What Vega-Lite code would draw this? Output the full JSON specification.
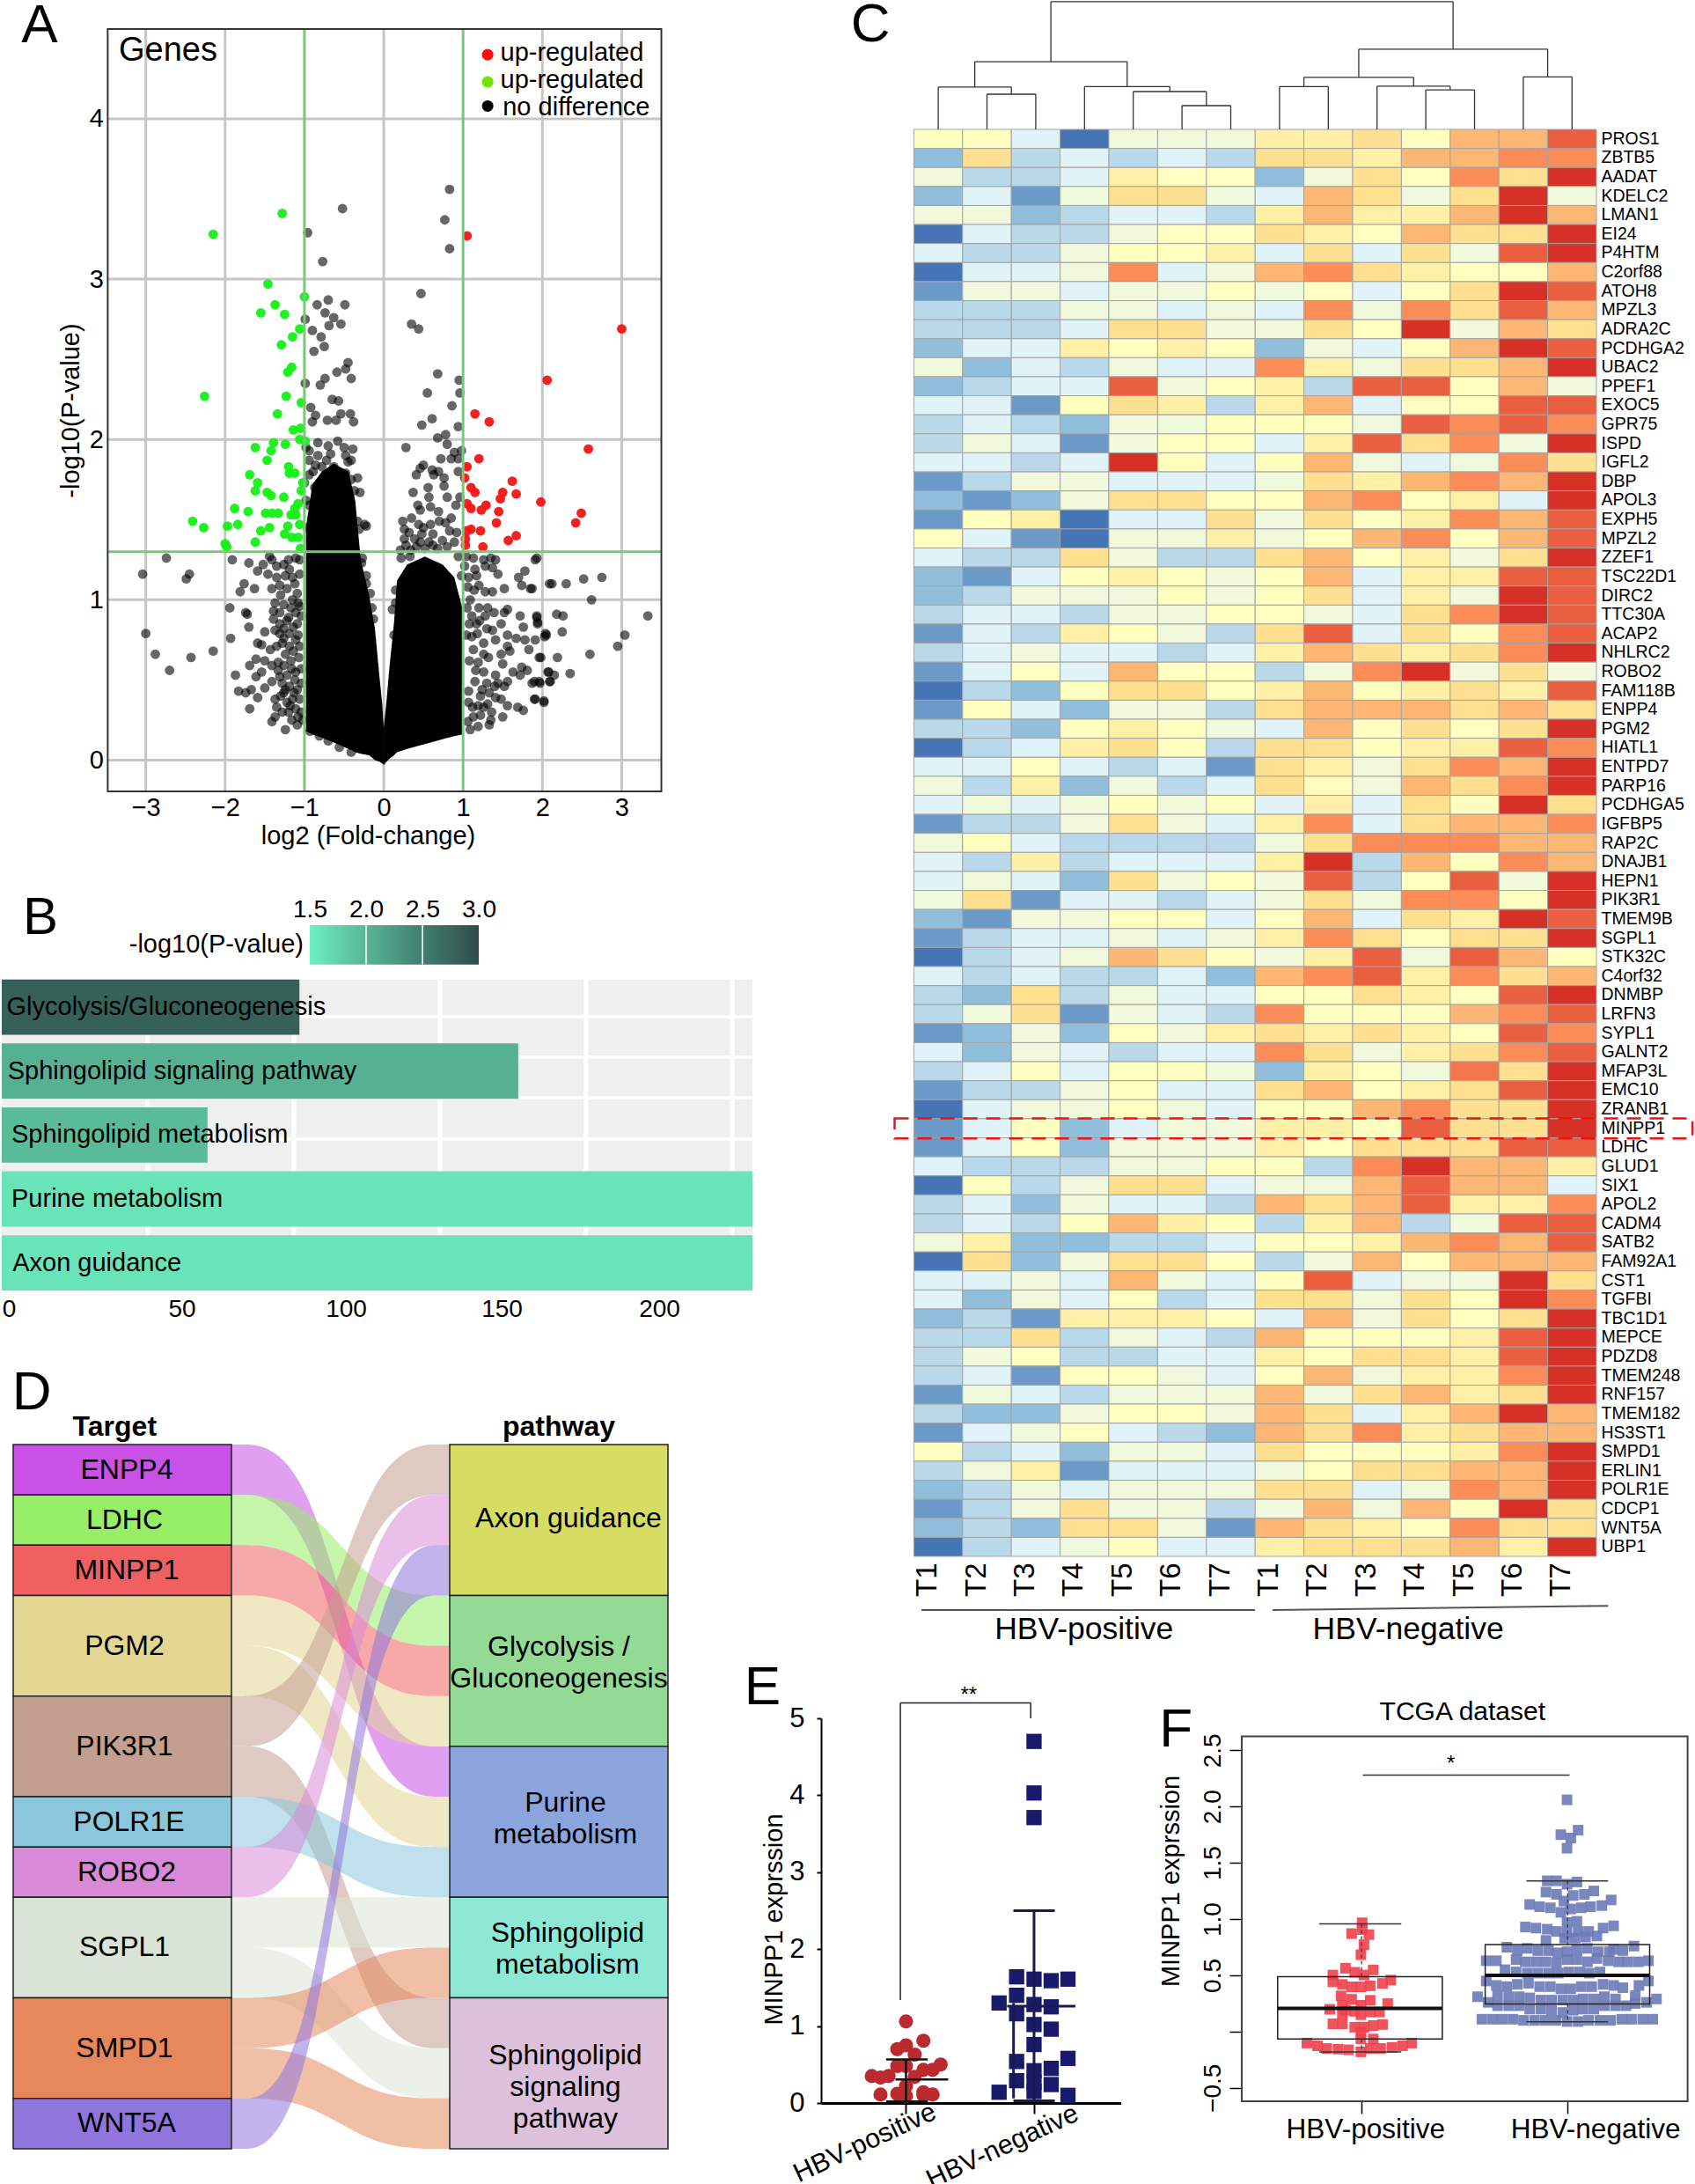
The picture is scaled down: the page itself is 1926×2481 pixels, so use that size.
{"$schema":"https://vega.github.io/schema/vega-lite/v6.json","width":1926,"height":2481,"autosize":{"type":"none"},"padding":0,"background":"white",
"config":{"view":{"stroke":null},"font":"Liberation Sans","text":{"font":"Liberation Sans"},"axis":{"labelFont":"Liberation Sans","titleFont":"Liberation Sans","grid":false,"titleFontWeight":"normal","labelColor":"#000","titleColor":"#000","domainColor":"#000","tickColor":"#000","labelOverlap":false,"labelBound":false,"labelFlush":false}},
"resolve":{"scale":{"x":"independent","y":"independent","color":"independent"}},
"layer":[
{"encoding":{"x":{"field":"x","type":"quantitative","scale":{"domain":[-3.48,3.5],"range":[122.4,751.5],"nice":false,"zero":false},"axis":{"orient":"bottom","offset":-1582,"values":[-3,-2,-1,0,1,2,3],"title":"log2 (Fold-change)","titleX":418,"labelFontSize":29,"titleFontSize":29,"domain":false,"ticks":false,"labelPadding":4,"titlePadding":3}},
"y":{"field":"y","type":"quantitative","scale":{"domain":[-0.195,4.56],"range":[899,33],"nice":false,"zero":false},"axis":{"orient":"left","offset":-122.4,"values":[0,1,2,3,4],"title":"-log10(P-value)","labelFontSize":29,"titleFontSize":29,"domain":false,"ticks":false,"labelPadding":5,"titlePadding":6}}},
"layer":[
{"data":{"values":[{"x":-3,"x2":-3,"y":-0.195,"y2":4.56},{"x":-2,"x2":-2,"y":-0.195,"y2":4.56},{"x":0,"x2":0,"y":-0.195,"y2":4.56},{"x":2,"x2":2,"y":-0.195,"y2":4.56},{"x":3,"x2":3,"y":-0.195,"y2":4.56},{"x":-3.48,"x2":3.5,"y":0,"y2":0},{"x":-3.48,"x2":3.5,"y":1,"y2":1},{"x":-3.48,"x2":3.5,"y":2,"y2":2},{"x":-3.48,"x2":3.5,"y":3,"y2":3},{"x":-3.48,"x2":3.5,"y":4,"y2":4}]},"mark":{"type":"rule","color":"#c6c6c6","strokeWidth":3},"encoding":{"x2":{"field":"x2"},"y2":{"field":"y2"}}},
{"data":{"values":[{"l":"a","x":-0.981,"y":1.45,"y2":0.18},{"l":"a","x":-0.9,"y":1.72,"y2":0.16},{"l":"a","x":-0.78,"y":1.8,"y2":0.14},{"l":"a","x":-0.63,"y":1.85,"y2":0.11},{"l":"a","x":-0.444,"y":1.8,"y2":0.07},{"l":"a","x":-0.36,"y":1.62,"y2":0.05},{"l":"a","x":-0.29,"y":1.25,"y2":0.04},{"l":"a","x":-0.185,"y":1.03,"y2":0.03},{"l":"a","x":-0.111,"y":0.82,"y2":0},{"l":"a","x":-0.056,"y":0.53,"y2":-0.01},{"l":"a","x":-0.019,"y":0.35,"y2":-0.02},{"l":"a","x":0,"y":0.2,"y2":-0.03},{"l":"b","x":0,"y":0.2,"y2":-0.03},{"l":"b","x":0.037,"y":0.38,"y2":-0.01},{"l":"b","x":0.074,"y":0.59,"y2":0.01},{"l":"b","x":0.13,"y":0.86,"y2":0.03},{"l":"b","x":0.167,"y":1.12,"y2":0.05},{"l":"b","x":0.296,"y":1.22,"y2":0.07},{"l":"b","x":0.519,"y":1.27,"y2":0.1},{"l":"b","x":0.741,"y":1.22,"y2":0.13},{"l":"b","x":0.889,"y":1.14,"y2":0.15},{"l":"b","x":1.0,"y":0.93,"y2":0.16}]},"mark":{"type":"area","color":"#000","opacity":1},"encoding":{"y2":{"field":"y2"},"detail":{"field":"l"}}},
{"data":{"values":[{"x":0.83,"y":3.56},{"x":0.77,"y":3.37},{"x":0.83,"y":3.19},{"x":-0.52,"y":3.44},{"x":-0.96,"y":3.29},{"x":-0.77,"y":3.11},{"x":0.47,"y":2.91},{"x":-0.7,"y":2.87},{"x":-0.49,"y":2.84},{"x":-0.84,"y":2.84},{"x":-0.74,"y":2.79},{"x":-0.63,"y":2.76},{"x":-0.99,"y":2.75},{"x":-0.69,"y":2.71},{"x":-0.54,"y":2.72},{"x":-0.9,"y":2.68},{"x":0.35,"y":2.72},{"x":0.44,"y":2.69},{"x":-0.79,"y":2.64},{"x":-0.75,"y":2.58},{"x":-0.88,"y":2.55},{"x":-0.45,"y":2.48},{"x":-0.48,"y":2.44},{"x":-0.59,"y":2.42},{"x":-0.99,"y":2.35},{"x":-0.8,"y":2.34},{"x":-0.74,"y":2.38},{"x":-0.41,"y":2.38},{"x":0.68,"y":2.41},{"x":0.95,"y":2.37},{"x":0.96,"y":2.29},{"x":0.55,"y":2.29},{"x":-0.65,"y":2.25},{"x":-0.57,"y":2.24},{"x":0.86,"y":2.21},{"x":-0.92,"y":2.2},{"x":-0.86,"y":2.15},{"x":-0.54,"y":2.16},{"x":-0.42,"y":2.16},{"x":-0.38,"y":2.11},{"x":-0.9,"y":2.11},{"x":-0.71,"y":2.12},{"x":-0.6,"y":2.12},{"x":0.61,"y":2.13},{"x":0.48,"y":2.09},{"x":0.94,"y":2.08},{"x":0.68,"y":2.01},{"x":0.78,"y":2.03},{"x":-2.74,"y":1.26},{"x":-3.04,"y":1.16},{"x":-2.45,"y":1.16},{"x":-2.49,"y":1.13},{"x":-3.0,"y":0.79},{"x":-2.88,"y":0.66},{"x":-2.7,"y":0.56},{"x":-2.43,"y":0.64},{"x":2.3,"y":1.1},{"x":2.52,"y":1.13},{"x":2.75,"y":1.14},{"x":2.62,"y":1.0},{"x":3.33,"y":0.9},{"x":2.26,"y":0.9},{"x":2.25,"y":0.8},{"x":3.04,"y":0.78},{"x":2.95,"y":0.71},{"x":2.6,"y":0.66},{"x":2.19,"y":0.64},{"x":2.35,"y":0.54},{"x":2.18,"y":0.91},{"x":2.12,"y":1.1},{"x":2.15,"y":0.53},{"x":2.08,"y":0.55},{"x":2.1,"y":0.49},{"x":2.05,"y":0.78},{"x":2.03,"y":0.77},{"x":1.98,"y":0.64},{"x":2.02,"y":0.37},{"x":1.97,"y":0.48},{"x":1.93,"y":1.26},{"x":1.93,"y":0.89},{"x":1.94,"y":0.85},{"x":1.87,"y":1.07},{"x":1.9,"y":0.38},{"x":1.9,"y":0.49},{"x":-1.91,"y":1.25},{"x":-1.7,"y":1.23},{"x":-1.59,"y":1.18},{"x":-1.52,"y":1.22},{"x":-1.44,"y":1.27},{"x":-1.41,"y":1.25},{"x":-1.35,"y":1.21},{"x":-1.2,"y":1.25},{"x":-1.11,"y":1.26},{"x":-1.06,"y":1.25},{"x":-1.19,"y":1.19},{"x":-1.46,"y":1.16},{"x":-1.35,"y":1.14},{"x":-1.24,"y":1.15},{"x":-1.15,"y":1.14},{"x":-1.06,"y":1.16},{"x":-1.76,"y":1.1},{"x":-1.81,"y":1.05},{"x":-1.63,"y":1.07},{"x":-1.41,"y":1.07},{"x":-1.31,"y":1.09},{"x":-1.22,"y":1.07},{"x":-1.09,"y":1.04},{"x":-1.3,"y":1.03},{"x":-1.37,"y":0.98},{"x":-1.26,"y":0.97},{"x":-1.15,"y":1},{"x":-1.06,"y":0.96},{"x":-1.94,"y":0.95},{"x":-1.74,"y":0.92},{"x":-1.72,"y":0.91},{"x":-1.39,"y":0.93},{"x":-1.31,"y":0.92},{"x":-1.2,"y":0.89},{"x":-1.11,"y":0.92},{"x":-1.04,"y":0.9},{"x":-1.7,"y":0.83},{"x":-1.39,"y":0.88},{"x":-1.31,"y":0.85},{"x":-1.26,"y":0.82},{"x":-1.09,"y":0.85},{"x":-1.93,"y":0.76},{"x":-1.5,"y":0.8},{"x":-1.37,"y":0.81},{"x":-1.31,"y":0.79},{"x":-1.26,"y":0.76},{"x":-1.19,"y":0.79},{"x":-1.59,"y":0.73},{"x":-1.54,"y":0.72},{"x":-1.43,"y":0.69},{"x":-1.35,"y":0.71},{"x":-1.28,"y":0.73},{"x":-1.19,"y":0.71},{"x":-1.11,"y":0.75},{"x":-1.06,"y":0.71},{"x":-2.15,"y":0.68},{"x":-1.61,"y":0.63},{"x":-1.5,"y":0.62},{"x":-1.69,"y":0.59},{"x":-1.54,"y":0.55},{"x":-1.41,"y":0.59},{"x":-1.33,"y":0.61},{"x":-1.26,"y":0.59},{"x":-1.17,"y":0.62},{"x":-1.07,"y":0.64},{"x":-1.87,"y":0.53},{"x":-1.61,"y":0.52},{"x":-1.5,"y":0.45},{"x":-1.41,"y":0.49},{"x":-1.31,"y":0.52},{"x":-1.22,"y":0.53},{"x":-1.11,"y":0.55},{"x":-1.04,"y":0.57},{"x":-1.83,"y":0.43},{"x":-1.74,"y":0.42},{"x":-1.67,"y":0.44},{"x":-1.59,"y":0.39},{"x":-1.37,"y":0.38},{"x":-1.26,"y":0.42},{"x":-1.19,"y":0.46},{"x":-1.09,"y":0.44},{"x":-1.04,"y":0.48},{"x":-1.69,"y":0.32},{"x":-1.35,"y":0.33},{"x":-1.22,"y":0.36},{"x":-1.15,"y":0.38},{"x":-1.06,"y":0.38},{"x":-1.37,"y":0.27},{"x":-1.2,"y":0.3},{"x":-1.11,"y":0.32},{"x":-1.04,"y":0.3},{"x":-1.41,"y":0.24},{"x":-1.24,"y":0.19},{"x":-1.09,"y":0.22},{"x":-1.02,"y":0.25},{"x":-0.93,"y":0.18},{"x":-0.81,"y":0.15},{"x":-0.7,"y":0.12},{"x":-0.56,"y":0.08},{"x":-0.41,"y":0.05},{"x":1.04,"y":1.27},{"x":1.13,"y":1.26},{"x":1.26,"y":1.25},{"x":1.35,"y":1.26},{"x":1.41,"y":1.25},{"x":1.91,"y":1.25},{"x":1.02,"y":1.21},{"x":1.15,"y":1.19},{"x":1.28,"y":1.21},{"x":1.37,"y":1.2},{"x":1.44,"y":1.16},{"x":1.78,"y":1.18},{"x":1.07,"y":1.14},{"x":1.17,"y":1.15},{"x":1.7,"y":1.14},{"x":1.74,"y":1.09},{"x":1.2,"y":1.09},{"x":1.28,"y":1.05},{"x":1.37,"y":1.05},{"x":1.52,"y":1.07},{"x":1.85,"y":1.07},{"x":2.09,"y":1.1},{"x":1.09,"y":1},{"x":1.2,"y":0.95},{"x":1.31,"y":0.95},{"x":1.56,"y":0.94},{"x":1.11,"y":0.9},{"x":1.28,"y":0.9},{"x":1.39,"y":0.92},{"x":1.52,"y":0.92},{"x":1.72,"y":0.9},{"x":1.93,"y":0.9},{"x":1.17,"y":0.85},{"x":1.48,"y":0.85},{"x":1.76,"y":0.83},{"x":1.94,"y":0.86},{"x":1.3,"y":0.82},{"x":1.37,"y":0.81},{"x":1.56,"y":0.78},{"x":1.67,"y":0.76},{"x":2.04,"y":0.79},{"x":1.11,"y":0.77},{"x":1.26,"y":0.73},{"x":1.41,"y":0.75},{"x":1.56,"y":0.71},{"x":1.78,"y":0.75},{"x":1.91,"y":0.75},{"x":1.83,"y":0.69},{"x":1.13,"y":0.69},{"x":1.26,"y":0.66},{"x":1.48,"y":0.66},{"x":1.59,"y":0.68},{"x":1.96,"y":0.64},{"x":1.19,"y":0.61},{"x":1.5,"y":0.6},{"x":1.74,"y":0.58},{"x":1.81,"y":0.56},{"x":1.26,"y":0.55},{"x":1.41,"y":0.53},{"x":1.63,"y":0.55},{"x":1.72,"y":0.53},{"x":2.07,"y":0.55},{"x":1.15,"y":0.49},{"x":1.3,"y":0.48},{"x":1.44,"y":0.48},{"x":1.56,"y":0.49},{"x":1.87,"y":0.48},{"x":1.96,"y":0.49},{"x":2.09,"y":0.49},{"x":1.22,"y":0.4},{"x":1.41,"y":0.39},{"x":1.52,"y":0.46},{"x":1.48,"y":0.38},{"x":1.91,"y":0.38},{"x":2.02,"y":0.36},{"x":1.07,"y":0.36},{"x":1.19,"y":0.34},{"x":1.31,"y":0.35},{"x":1.56,"y":0.34},{"x":1.69,"y":0.33},{"x":1.76,"y":0.31},{"x":1.13,"y":0.27},{"x":1.22,"y":0.28},{"x":1.35,"y":0.25},{"x":1.5,"y":0.27},{"x":1.09,"y":0.19},{"x":1.19,"y":0.21},{"x":1.33,"y":0.22},{"x":-0.98,"y":1.95},{"x":0.28,"y":1.95},{"x":0.8,"y":1.97},{"x":0.89,"y":1.92},{"x":0.98,"y":1.93},{"x":0.72,"y":1.88},{"x":0.85,"y":1.88},{"x":0.94,"y":1.88},{"x":0.5,"y":1.84},{"x":0.46,"y":1.82},{"x":0.61,"y":1.81},{"x":0.69,"y":1.8},{"x":0.94,"y":1.8},{"x":0.76,"y":1.76},{"x":0.41,"y":1.78},{"x":0.63,"y":1.78},{"x":0.56,"y":1.7},{"x":0.76,"y":1.71},{"x":0.37,"y":1.67},{"x":0.57,"y":1.64},{"x":0.8,"y":1.64},{"x":0.96,"y":1.64},{"x":0.43,"y":1.59},{"x":0.59,"y":1.58},{"x":0.91,"y":1.59},{"x":0.46,"y":1.56},{"x":0.69,"y":1.55},{"x":0.24,"y":1.49},{"x":0.35,"y":1.51},{"x":0.26,"y":1.44},{"x":0.44,"y":1.47},{"x":0.59,"y":1.47},{"x":0.7,"y":1.49},{"x":0.85,"y":1.51},{"x":0.26,"y":1.38},{"x":0.39,"y":1.38},{"x":0.5,"y":1.45},{"x":0.83,"y":1.43},{"x":0.28,"y":1.34},{"x":0.46,"y":1.36},{"x":0.57,"y":1.36},{"x":0.74,"y":1.37},{"x":0.89,"y":1.36},{"x":0.22,"y":1.26},{"x":0.33,"y":1.27},{"x":-0.83,"y":1.98},{"x":-0.94,"y":1.93},{"x":-0.7,"y":1.96},{"x":-0.5,"y":1.95},{"x":-0.39,"y":1.94},{"x":-0.83,"y":1.9},{"x":-0.67,"y":1.91},{"x":-0.48,"y":1.9},{"x":-0.41,"y":1.87},{"x":-0.94,"y":1.87},{"x":-0.78,"y":1.83},{"x":-0.63,"y":1.83},{"x":-0.89,"y":1.8},{"x":-0.48,"y":1.79},{"x":-0.41,"y":1.75},{"x":-0.74,"y":1.76},{"x":-0.94,"y":1.78},{"x":-0.61,"y":1.74},{"x":-0.87,"y":1.7},{"x":-0.37,"y":1.68},{"x":-0.3,"y":1.67},{"x":-0.52,"y":1.68},{"x":-0.7,"y":1.69},{"x":-0.78,"y":1.66},{"x":-0.87,"y":1.6},{"x":-1.0,"y":1.73},{"x":-0.94,"y":1.59},{"x":-0.96,"y":1.45},{"x":-0.24,"y":1.47},{"x":-0.22,"y":1.46},{"x":-0.31,"y":1.44},{"x":-0.33,"y":1.49},{"x":-0.27,"y":1.26},{"x":-0.28,"y":1.23},{"x":-0.22,"y":1.15},{"x":-0.17,"y":1.04},{"x":-0.22,"y":1.1},{"x":-0.15,"y":0.95},{"x":-0.13,"y":0.88},{"x":0.11,"y":0.94},{"x":0.15,"y":1.06},{"x":0.15,"y":0.98},{"x":0.13,"y":0.78},{"x":-1.33,"y":0.56},{"x":-1.28,"y":0.48},{"x":-1.24,"y":0.44},{"x":-1.3,"y":0.4},{"x":-1.18,"y":0.34},{"x":-1.13,"y":0.42},{"x":-1.12,"y":0.5},{"x":-1.16,"y":0.57},{"x":-1.24,"y":0.66},{"x":-1.14,"y":0.68},{"x":-1.08,"y":0.78},{"x":-1.22,"y":0.87},{"x":-1.14,"y":0.83},{"x":-1.08,"y":0.98},{"x":-1.17,"y":0.95},{"x":-1.26,"y":1.22},{"x":-1.12,"y":1.1},{"x":-1.08,"y":0.27},{"x":-1.16,"y":0.25},{"x":-1.28,"y":0.3},{"x":1.06,"y":0.24},{"x":1.12,"y":0.33},{"x":1.07,"y":0.43},{"x":1.24,"y":0.44},{"x":1.16,"y":0.56},{"x":1.08,"y":0.62},{"x":1.33,"y":0.42},{"x":1.36,"y":0.3},{"x":1.26,"y":0.33},{"x":1.04,"y":0.78},{"x":1.18,"y":0.79},{"x":1.08,"y":0.85},{"x":1.05,"y":0.95},{"x":1.14,"y":1.06},{"x":1.06,"y":1.08},{"x":1.21,"y":0.87},{"x":1.32,"y":0.64},{"x":1.4,"y":0.46},{"x":0.21,"y":1.31},{"x":0.34,"y":1.31},{"x":0.41,"y":1.33},{"x":0.52,"y":1.32},{"x":0.62,"y":1.34},{"x":0.68,"y":1.32},{"x":0.8,"y":1.33},{"x":0.94,"y":1.27},{"x":0.98,"y":1.15},{"x":0.32,"y":1.42},{"x":0.48,"y":1.41},{"x":0.62,"y":1.41},{"x":0.78,"y":1.48},{"x":0.92,"y":1.42},{"x":-0.58,"y":1.99},{"x":-0.45,"y":1.86},{"x":-0.72,"y":1.87},{"x":-0.86,"y":1.84},{"x":-0.33,"y":1.76},{"x":-0.98,"y":1.62}]},"mark":{"type":"circle","color":"#000","opacity":0.6,"size":118}},
{"data":{"values":[{"x":-2.15,"y":3.28},{"x":-1.28,"y":3.41},{"x":-1.46,"y":2.97},{"x":-1.0,"y":2.89},{"x":-1.55,"y":2.79},{"x":-1.37,"y":2.84},{"x":-1.25,"y":2.78},{"x":-1.06,"y":2.69},{"x":-1.15,"y":2.64},{"x":-1.29,"y":2.59},{"x":-1.16,"y":2.45},{"x":-1.21,"y":2.42},{"x":-2.26,"y":2.27},{"x":-1.23,"y":2.27},{"x":-1.04,"y":2.23},{"x":-1.34,"y":2.16},{"x":-1.14,"y":2.06},{"x":-1.05,"y":2.07},{"x":-1.06,"y":2.0},{"x":-0.99,"y":1.99},{"x":-1.39,"y":1.98},{"x":-1.24,"y":1.97},{"x":-1.62,"y":1.95},{"x":-1.42,"y":1.93},{"x":-1.47,"y":1.87},{"x":-1.2,"y":1.83},{"x":-1.19,"y":1.79},{"x":-1.12,"y":1.79},{"x":-1.69,"y":1.78},{"x":-1.59,"y":1.73},{"x":-1.02,"y":1.73},{"x":-1.62,"y":1.68},{"x":-1.04,"y":1.68},{"x":-1.47,"y":1.67},{"x":-1.42,"y":1.65},{"x":-1.26,"y":1.64},{"x":-1.08,"y":1.6},{"x":-1.12,"y":1.57},{"x":-1.88,"y":1.57},{"x":-1.71,"y":1.55},{"x":-1.49,"y":1.54},{"x":-1.41,"y":1.54},{"x":-1.33,"y":1.54},{"x":-1.17,"y":1.53},{"x":-1.11,"y":1.53},{"x":-2.41,"y":1.49},{"x":-1.84,"y":1.47},{"x":-1.21,"y":1.46},{"x":-2.27,"y":1.45},{"x":-1.97,"y":1.46},{"x":-1.44,"y":1.45},{"x":-1.06,"y":1.47},{"x":-1.55,"y":1.43},{"x":-1.25,"y":1.41},{"x":-1.16,"y":1.39},{"x":-1.08,"y":1.39},{"x":-1.62,"y":1.36},{"x":-2.0,"y":1.35},{"x":-1.98,"y":1.33},{"x":-1.05,"y":1.32}]},"mark":{"type":"circle","color":"#14f014","opacity":0.95,"size":118}},
{"data":{"values":[{"x":1.05,"y":3.27},{"x":3.0,"y":2.69},{"x":2.06,"y":2.37},{"x":1.15,"y":2.16},{"x":1.33,"y":2.11},{"x":2.58,"y":1.94},{"x":1.2,"y":1.88},{"x":1.05,"y":1.83},{"x":1.02,"y":1.76},{"x":1.62,"y":1.74},{"x":1.1,"y":1.7},{"x":1.15,"y":1.67},{"x":1.5,"y":1.67},{"x":1.67,"y":1.66},{"x":1.47,"y":1.63},{"x":1.98,"y":1.61},{"x":1.05,"y":1.6},{"x":1.1,"y":1.57},{"x":1.29,"y":1.59},{"x":1.23,"y":1.56},{"x":1.45,"y":1.55},{"x":2.49,"y":1.54},{"x":2.42,"y":1.48},{"x":1.42,"y":1.48},{"x":1.1,"y":1.44},{"x":1.22,"y":1.43},{"x":1.05,"y":1.43},{"x":1.67,"y":1.4},{"x":1.57,"y":1.37},{"x":1.03,"y":1.38},{"x":1.03,"y":1.34},{"x":1.25,"y":1.33}]},"mark":{"type":"circle","color":"#f51414","opacity":0.95,"size":118}},
{"data":{"values":[{"x":-1,"x2":-1,"y":-0.195,"y2":4.56},{"x":1,"x2":1,"y":-0.195,"y2":4.56},{"x":-3.48,"x2":3.5,"y":1.3,"y2":1.3}]},"mark":{"type":"rule","color":"#78c878","strokeWidth":3},"encoding":{"x2":{"field":"x2"},"y2":{"field":"y2"}}},
{"data":{"values":[{"x":-3.48,"x2":3.5,"y":-0.195,"y2":4.56}]},"mark":{"type":"rect","fill":null,"stroke":"#333","strokeWidth":2},"encoding":{"x2":{"field":"x2"},"y2":{"field":"y2"}}},
{"data":{"values":[{"x":1.31,"y":4.4,"c":"#ff1010"},{"x":1.31,"y":4.23,"c":"#6ee600"},{"x":1.31,"y":4.08,"c":"#000000"}]},"mark":{"type":"circle","size":170,"opacity":1},"encoding":{"color":{"field":"c","type":"nominal","scale":null}}},
{"data":{"values":[{"x":1.47,"y":4.41,"t":"up-regulated"},{"x":1.47,"y":4.24,"t":"up-regulated"},{"x":1.5,"y":4.07,"t":"no difference"}]},"mark":{"type":"text","align":"left","baseline":"middle","fontSize":29},"encoding":{"text":{"field":"t"}}},
{"data":{"values":[{"x":-3.34,"y":4.42,"t":"Genes"}]},"mark":{"type":"text","align":"left","baseline":"middle","fontSize":38},"encoding":{"text":{"field":"t"}}},
{"data":{"values":[{"x":-4.34,"y":4.58,"t":"A"}]},"mark":{"type":"text","align":"center","baseline":"middle","fontSize":62},"encoding":{"text":{"field":"t"}}}
]},
{"encoding":{"x":{"field":"x","type":"quantitative","scale":{"domain":[0,50,100,150,200,230],"range":[2,198.5,385,562,741,855],"nice":false,"zero":false},"axis":null},"y":{"field":"y","type":"quantitative","scale":{"domain":[0,353.3],"range":[1112.7,1466],"nice":false,"zero":false},"axis":null}},
"layer":[
{"data":{"values":[{"x":0,"x2":230,"y":0,"y2":353.3}]},"mark":{"type":"rect","color":"#efefef"},"encoding":{"x2":{"field":"x2"},"y2":{"field":"y2"}}},
{"data":{"values":[{"x":42.2,"x2":42.2,"y":0,"y2":353.3},{"x":86.3,"x2":86.3,"y":0,"y2":353.3},{"x":132.5,"x2":132.5,"y":0,"y2":353.3},{"x":179,"x2":179,"y":0,"y2":353.3},{"x":224,"x2":224,"y":0,"y2":353.3}]},"mark":{"type":"rule","color":"#fff","strokeWidth":5},"encoding":{"x2":{"field":"x2"},"y2":{"field":"y2"}}},
{"data":{"values":[{"x":0,"x2":230,"y":42.3,"y2":42.3},{"x":0,"x2":230,"y":88.3,"y2":88.3},{"x":0,"x2":230,"y":134.3,"y2":134.3},{"x":0,"x2":230,"y":181.3,"y2":181.3},{"x":0,"x2":230,"y":227.3,"y2":227.3},{"x":0,"x2":230,"y":273.3,"y2":273.3},{"x":0,"x2":230,"y":320.3,"y2":320.3}]},"mark":{"type":"rule","color":"#fff","strokeWidth":3.5},"encoding":{"x2":{"field":"x2"},"y2":{"field":"y2"}}}
]},
{"encoding":{"x":{"field":"x","type":"quantitative","scale":{"domain":[0,50,100,150,200,230],"range":[2,198.5,385,562,741,855],"nice":false,"zero":false},"axis":{"orient":"bottom","offset":-1015,"values":[0,50,100,150,200],"title":null,"labelFontSize":28,"domain":false,"ticks":false,"labelPadding":7,"labelOffset":8}},"y":{"field":"n","type":"nominal","sort":null,"scale":{"domain":["Glycolysis/Gluconeogenesis","Sphingolipid signaling pathway","Sphingolipid metabolism","Purine metabolism","Axon guidance"],"range":[1112.7,1466],"paddingInner":0.135,"paddingOuter":0},"axis":null}},
"layer":[
{"data":{"values":[{"n":"Glycolysis/Gluconeogenesis","x":88,"p":2.8},{"n":"Sphingolipid signaling pathway","x":157.5,"p":2.05},{"n":"Sphingolipid metabolism","x":60,"p":1.95},{"n":"Purine metabolism","x":230,"p":1.6},{"n":"Axon guidance","x":230,"p":1.6}]},"mark":{"type":"bar"},"encoding":{"color":{"field":"p","type":"quantitative","scale":{"domain":[1.5,2,2.5,3],"range":["#6df0c2","#58b596","#41806f","#2f4c4a"],"interpolate":"rgb"},"legend":null}}},
{"data":{"values":[{"n":"Glycolysis/Gluconeogenesis","x":1.4},{"n":"Sphingolipid signaling pathway","x":1.7},{"n":"Sphingolipid metabolism","x":2.8},{"n":"Purine metabolism","x":2.8},{"n":"Axon guidance","x":3.1}]},"mark":{"type":"text","align":"left","baseline":"middle","fontSize":29,"color":"#000"},"encoding":{"text":{"field":"n"}}}
]},
{"encoding":{"x":{"field":"x","type":"quantitative","scale":{"domain":[1.5,3],"range":[352,544],"nice":false,"zero":false},"axis":{"orient":"top","offset":-1051,"values":[1.5,2,2.5,3],"format":".1f","title":null,"labelFontSize":28,"domain":false,"ticks":false,"labelPadding":4}},"y":{"field":"y","type":"quantitative","scale":{"domain":[0,1],"range":[1095.7,1051],"nice":false,"zero":false},"axis":null}},
"layer":[
{"data":{"values":[{"x":1.5,"x2":3,"y":0,"y2":1}]},"mark":{"type":"rect","fill":{"gradient":"linear","x1":0,"x2":1,"y1":0,"y2":0,"stops":[{"offset":0,"color":"#6df0c2"},{"offset":0.33,"color":"#58b596"},{"offset":0.66,"color":"#41806f"},{"offset":1,"color":"#2f4c4a"}]}},"encoding":{"x2":{"field":"x2"},"y2":{"field":"y2"}}},
{"data":{"values":[{"x":2,"x2":2,"y":0,"y2":1},{"x":2.5,"x2":2.5,"y":0,"y2":1}]},"mark":{"type":"rule","color":"#fff","strokeWidth":1.5},"encoding":{"x2":{"field":"x2"},"y2":{"field":"y2"}}},
{"data":{"values":[{"x":1.5,"y":0.5,"t":"-log10(P-value)"}]},"mark":{"type":"text","align":"right","baseline":"middle","dx":-7,"fontSize":29},"encoding":{"text":{"field":"t"}}},
{"data":{"values":[{"x":-0.89,"y":1.19,"t":"B"}]},"mark":{"type":"text","align":"center","baseline":"middle","fontSize":60},"encoding":{"text":{"field":"t"}}}
]},
{"encoding":{"x":{"field":"x","type":"quantitative","scale":{"domain":[-1,2],"range":[15,759],"nice":false,"zero":false},"axis":null},"y":{"field":"y","type":"quantitative","scale":{"domain":[0,14],"range":[1641,2441],"nice":false,"zero":false},"axis":null},"color":{"field":"n","type":"nominal","scale":{"domain":["ENPP4","LDHC","MINPP1","PGM2","PIK3R1","POLR1E","ROBO2","SGPL1","SMPD1","WNT5A","Axon","Glyco","Purine","SphMet","SphSig"],"range":["#c951e5","#96ef66","#f06060","#e3d592","#c39f8f","#8ac6dc","#d88ad8","#dae4d6","#e6885c","#8f75dc","#d7dc63","#93db95","#8ca4dc","#8de8d6","#dcc0dc"]},"legend":null}},
"layer":[
{"data":{"values":[{"n":"ENPP4","f":1,"x":0,"y":0,"y2":1},{"n":"ENPP4","f":1,"x":0.35,"y":0,"y2":1},{"n":"ENPP4","f":1,"x":0.65,"y":6,"y2":7},{"n":"ENPP4","f":1,"x":1,"y":6,"y2":7},{"n":"LDHC","f":2,"x":0,"y":1,"y2":2},{"n":"LDHC","f":2,"x":0.35,"y":1,"y2":2},{"n":"LDHC","f":2,"x":0.65,"y":3,"y2":4},{"n":"LDHC","f":2,"x":1,"y":3,"y2":4},{"n":"MINPP1","f":3,"x":0,"y":2,"y2":3},{"n":"MINPP1","f":3,"x":0.35,"y":2,"y2":3},{"n":"MINPP1","f":3,"x":0.65,"y":4,"y2":5},{"n":"MINPP1","f":3,"x":1,"y":4,"y2":5},{"n":"PGM2","f":4,"x":0,"y":3,"y2":4},{"n":"PGM2","f":4,"x":0.35,"y":3,"y2":4},{"n":"PGM2","f":4,"x":0.65,"y":5,"y2":6},{"n":"PGM2","f":4,"x":1,"y":5,"y2":6},{"n":"PGM2","f":5,"x":0,"y":4,"y2":5},{"n":"PGM2","f":5,"x":0.35,"y":4,"y2":5},{"n":"PGM2","f":5,"x":0.65,"y":7,"y2":8},{"n":"PGM2","f":5,"x":1,"y":7,"y2":8},{"n":"PIK3R1","f":6,"x":0,"y":5,"y2":6},{"n":"PIK3R1","f":6,"x":0.35,"y":5,"y2":6},{"n":"PIK3R1","f":6,"x":0.65,"y":0,"y2":1},{"n":"PIK3R1","f":6,"x":1,"y":0,"y2":1},{"n":"PIK3R1","f":7,"x":0,"y":6,"y2":7},{"n":"PIK3R1","f":7,"x":0.35,"y":6,"y2":7},{"n":"PIK3R1","f":7,"x":0.65,"y":11,"y2":12},{"n":"PIK3R1","f":7,"x":1,"y":11,"y2":12},{"n":"POLR1E","f":8,"x":0,"y":7,"y2":8},{"n":"POLR1E","f":8,"x":0.35,"y":7,"y2":8},{"n":"POLR1E","f":8,"x":0.65,"y":8,"y2":9},{"n":"POLR1E","f":8,"x":1,"y":8,"y2":9},{"n":"ROBO2","f":9,"x":0,"y":8,"y2":9},{"n":"ROBO2","f":9,"x":0.35,"y":8,"y2":9},{"n":"ROBO2","f":9,"x":0.65,"y":1,"y2":2},{"n":"ROBO2","f":9,"x":1,"y":1,"y2":2},{"n":"SGPL1","f":10,"x":0,"y":9,"y2":10},{"n":"SGPL1","f":10,"x":1,"y":9,"y2":10},{"n":"SGPL1","f":11,"x":0,"y":10,"y2":11},{"n":"SGPL1","f":11,"x":0.35,"y":10,"y2":11},{"n":"SGPL1","f":11,"x":0.65,"y":12,"y2":13},{"n":"SGPL1","f":11,"x":1,"y":12,"y2":13},{"n":"SMPD1","f":12,"x":0,"y":11,"y2":12},{"n":"SMPD1","f":12,"x":0.35,"y":11,"y2":12},{"n":"SMPD1","f":12,"x":0.65,"y":10,"y2":11},{"n":"SMPD1","f":12,"x":1,"y":10,"y2":11},{"n":"SMPD1","f":13,"x":0,"y":12,"y2":13},{"n":"SMPD1","f":13,"x":0.35,"y":12,"y2":13},{"n":"SMPD1","f":13,"x":0.65,"y":13,"y2":14},{"n":"SMPD1","f":13,"x":1,"y":13,"y2":14},{"n":"WNT5A","f":14,"x":0,"y":13,"y2":14},{"n":"WNT5A","f":14,"x":0.35,"y":13,"y2":14},{"n":"WNT5A","f":14,"x":0.65,"y":2,"y2":3},{"n":"WNT5A","f":14,"x":1,"y":2,"y2":3}]},"mark":{"type":"area","interpolate":"basis","opacity":0.55},"encoding":{"y2":{"field":"y2"},"detail":{"field":"f"}}},
{"data":{"values":[{"n":"ENPP4","x":-1,"x2":0,"y":0,"y2":1},{"n":"LDHC","x":-1,"x2":0,"y":1,"y2":2},{"n":"MINPP1","x":-1,"x2":0,"y":2,"y2":3},{"n":"PGM2","x":-1,"x2":0,"y":3,"y2":5},{"n":"PIK3R1","x":-1,"x2":0,"y":5,"y2":7},{"n":"POLR1E","x":-1,"x2":0,"y":7,"y2":8},{"n":"ROBO2","x":-1,"x2":0,"y":8,"y2":9},{"n":"SGPL1","x":-1,"x2":0,"y":9,"y2":11},{"n":"SMPD1","x":-1,"x2":0,"y":11,"y2":13},{"n":"WNT5A","x":-1,"x2":0,"y":13,"y2":14},{"n":"Axon","x":1,"x2":2,"y":0,"y2":3},{"n":"Glyco","x":1,"x2":2,"y":3,"y2":6},{"n":"Purine","x":1,"x2":2,"y":6,"y2":9},{"n":"SphMet","x":1,"x2":2,"y":9,"y2":11},{"n":"SphSig","x":1,"x2":2,"y":11,"y2":14}]},"mark":{"type":"rect","stroke":"#222","strokeWidth":1.5},"encoding":{"x2":{"field":"x2"},"y2":{"field":"y2"}}},
{"data":{"values":[{"t":"ENPP4","x":-0.48,"y":0.5},{"t":"LDHC","x":-0.49,"y":1.5},{"t":"MINPP1","x":-0.48,"y":2.5},{"t":"PGM2","x":-0.49,"y":4},{"t":"PIK3R1","x":-0.49,"y":6},{"t":"POLR1E","x":-0.47,"y":7.5},{"t":"ROBO2","x":-0.48,"y":8.5},{"t":"SGPL1","x":-0.49,"y":10},{"t":"SMPD1","x":-0.49,"y":12},{"t":"WNT5A","x":-0.48,"y":13.5},{"t":"Axon guidance","x":1.544,"y":1.47},{"t":"Glycolysis /\nGluconeogenesis","x":1.5,"y":4.03},{"t":"Purine\nmetabolism","x":1.53,"y":7.13},{"t":"Sphingolipid\nmetabolism","x":1.54,"y":9.72},{"t":"Sphingolipid\nsignaling\npathway","x":1.53,"y":12.14}]},"mark":{"type":"text","align":"center","baseline":"middle","fontSize":32,"lineBreak":"\n","lineHeight":36,"color":"#000"},"encoding":{"text":{"field":"t"},"color":{"value":"#000"}}},
{"data":{"values":[{"t":"Target","x":-0.535,"y":-0.35},{"t":"pathway","x":1.5,"y":-0.35}]},"mark":{"type":"text","align":"center","baseline":"middle","fontSize":32,"fontWeight":"bold"},"encoding":{"text":{"field":"t"},"color":{"value":"#000"}}},
{"data":{"values":[{"t":"D","x":-0.915,"y":-1.03}]},"mark":{"type":"text","align":"center","baseline":"middle","fontSize":62},"encoding":{"text":{"field":"t"},"color":{"value":"#000"}}}
]},
{"data":{"values":[
{"g":"PROS1","P1":6,"P2":6,"P3":4,"P4":0,"P5":5,"P6":5,"P7":5,"N1":7,"N2":7,"N3":8,"N4":6,"N5":9,"N6":9,"N7":11},
{"g":"ZBTB5","P1":2,"P2":8,"P3":3,"P4":4,"P5":3,"P6":4,"P7":3,"N1":8,"N2":8,"N3":7,"N4":9,"N5":9,"N6":10,"N7":10},
{"g":"AADAT","P1":5,"P2":3,"P3":3,"P4":4,"P5":7,"P6":6,"P7":6,"N1":2,"N2":5,"N3":8,"N4":6,"N5":10,"N6":8,"N7":12},
{"g":"KDELC2","P1":2,"P2":4,"P3":1,"P4":5,"P5":8,"P6":8,"P7":5,"N1":4,"N2":9,"N3":8,"N4":5,"N5":8,"N6":12,"N7":5},
{"g":"LMAN1","P1":5,"P2":5,"P3":2,"P4":3,"P5":4,"P6":4,"P7":3,"N1":7,"N2":9,"N3":7,"N4":7,"N5":9,"N6":12,"N7":9},
{"g":"EI24","P1":0,"P2":4,"P3":3,"P4":3,"P5":5,"P6":6,"P7":6,"N1":8,"N2":7,"N3":6,"N4":9,"N5":8,"N6":8,"N7":12},
{"g":"P4HTM","P1":4,"P2":3,"P3":3,"P4":5,"P5":6,"P6":6,"P7":7,"N1":4,"N2":8,"N3":4,"N4":8,"N5":5,"N6":11,"N7":12},
{"g":"C2orf88","P1":0,"P2":4,"P3":4,"P4":5,"P5":10,"P6":4,"P7":5,"N1":9,"N2":10,"N3":8,"N4":7,"N5":6,"N6":6,"N7":9},
{"g":"ATOH8","P1":1,"P2":5,"P3":5,"P4":4,"P5":5,"P6":5,"P7":6,"N1":5,"N2":6,"N3":4,"N4":6,"N5":8,"N6":12,"N7":11},
{"g":"MPZL3","P1":3,"P2":3,"P3":3,"P4":5,"P5":5,"P6":4,"P7":5,"N1":4,"N2":10,"N3":5,"N4":10,"N5":8,"N6":11,"N7":9},
{"g":"ADRA2C","P1":3,"P2":3,"P3":3,"P4":4,"P5":8,"P6":8,"P7":5,"N1":5,"N2":8,"N3":6,"N4":12,"N5":5,"N6":9,"N7":8},
{"g":"PCDHGA2","P1":2,"P2":4,"P3":4,"P4":7,"P5":6,"P6":7,"P7":6,"N1":2,"N2":5,"N3":4,"N4":6,"N5":9,"N6":12,"N7":11},
{"g":"UBAC2","P1":5,"P2":2,"P3":4,"P4":3,"P5":5,"P6":4,"P7":4,"N1":10,"N2":7,"N3":5,"N4":8,"N5":8,"N6":9,"N7":12},
{"g":"PPEF1","P1":2,"P2":3,"P3":4,"P4":4,"P5":11,"P6":5,"P7":6,"N1":7,"N2":3,"N3":11,"N4":11,"N5":6,"N6":9,"N7":5},
{"g":"EXOC5","P1":4,"P2":4,"P3":1,"P4":6,"P5":8,"P6":7,"P7":3,"N1":7,"N2":9,"N3":4,"N4":6,"N5":6,"N6":11,"N7":11},
{"g":"GPR75","P1":3,"P2":4,"P3":3,"P4":2,"P5":5,"P6":5,"P7":6,"N1":6,"N2":6,"N3":5,"N4":11,"N5":10,"N6":11,"N7":10},
{"g":"ISPD","P1":3,"P2":5,"P3":4,"P4":1,"P5":5,"P6":6,"P7":6,"N1":4,"N2":7,"N3":11,"N4":8,"N5":10,"N6":5,"N7":12},
{"g":"IGFL2","P1":4,"P2":4,"P3":3,"P4":4,"P5":12,"P6":6,"P7":4,"N1":6,"N2":9,"N3":5,"N4":4,"N5":5,"N6":10,"N7":8},
{"g":"DBP","P1":1,"P2":3,"P3":5,"P4":5,"P5":4,"P6":4,"P7":4,"N1":5,"N2":8,"N3":7,"N4":9,"N5":10,"N6":9,"N7":12},
{"g":"APOL3","P1":2,"P2":1,"P3":2,"P4":5,"P5":8,"P6":8,"P7":6,"N1":6,"N2":9,"N3":10,"N4":6,"N5":7,"N6":4,"N7":12},
{"g":"EXPH5","P1":1,"P2":6,"P3":7,"P4":0,"P5":4,"P6":4,"P7":8,"N1":5,"N2":8,"N3":6,"N4":7,"N5":10,"N6":9,"N7":11},
{"g":"MPZL2","P1":6,"P2":4,"P3":1,"P4":0,"P5":5,"P6":5,"P7":7,"N1":5,"N2":6,"N3":9,"N4":10,"N5":6,"N6":9,"N7":11},
{"g":"ZZEF1","P1":4,"P2":3,"P3":3,"P4":8,"P5":5,"P6":3,"P7":3,"N1":8,"N2":9,"N3":6,"N4":7,"N5":5,"N6":8,"N7":12},
{"g":"TSC22D1","P1":2,"P2":1,"P3":4,"P4":6,"P5":7,"P6":6,"P7":5,"N1":6,"N2":9,"N3":4,"N4":7,"N5":7,"N6":11,"N7":11},
{"g":"DIRC2","P1":2,"P2":3,"P3":5,"P4":5,"P5":5,"P6":6,"P7":5,"N1":6,"N2":8,"N3":4,"N4":7,"N5":5,"N6":12,"N7":11},
{"g":"TTC30A","P1":3,"P2":4,"P3":4,"P4":3,"P5":5,"P6":5,"P7":6,"N1":6,"N2":5,"N3":4,"N4":8,"N5":10,"N6":12,"N7":11},
{"g":"ACAP2","P1":1,"P2":4,"P3":3,"P4":7,"P5":6,"P6":5,"P7":3,"N1":8,"N2":11,"N3":4,"N4":8,"N5":6,"N6":10,"N7":11},
{"g":"NHLRC2","P1":3,"P2":4,"P3":5,"P4":4,"P5":4,"P6":3,"P7":4,"N1":7,"N2":9,"N3":8,"N4":7,"N5":8,"N6":10,"N7":12},
{"g":"ROBO2","P1":1,"P2":4,"P3":6,"P4":4,"P5":9,"P6":6,"P7":6,"N1":3,"N2":5,"N3":10,"N4":12,"N5":5,"N6":8,"N7":5},
{"g":"FAM118B","P1":0,"P2":3,"P3":2,"P4":6,"P5":8,"P6":8,"P7":6,"N1":7,"N2":9,"N3":6,"N4":7,"N5":8,"N6":7,"N7":11},
{"g":"ENPP4","P1":1,"P2":6,"P3":4,"P4":2,"P5":5,"P6":5,"P7":3,"N1":8,"N2":9,"N3":9,"N4":9,"N5":8,"N6":9,"N7":8},
{"g":"PGM2","P1":3,"P2":3,"P3":2,"P4":6,"P5":7,"P6":6,"P7":5,"N1":4,"N2":9,"N3":6,"N4":8,"N5":6,"N6":8,"N7":12},
{"g":"HIATL1","P1":0,"P2":3,"P3":4,"P4":7,"P5":8,"P6":6,"P7":3,"N1":8,"N2":8,"N3":6,"N4":7,"N5":7,"N6":11,"N7":10},
{"g":"ENTPD7","P1":4,"P2":4,"P3":6,"P4":4,"P5":3,"P6":4,"P7":1,"N1":8,"N2":7,"N3":5,"N4":8,"N5":10,"N6":9,"N7":12},
{"g":"PARP16","P1":5,"P2":3,"P3":7,"P4":2,"P5":5,"P6":3,"P7":4,"N1":8,"N2":6,"N3":5,"N4":9,"N5":8,"N6":10,"N7":12},
{"g":"PCDHGA5","P1":4,"P2":5,"P3":4,"P4":5,"P5":6,"P6":5,"P7":6,"N1":4,"N2":7,"N3":4,"N4":8,"N5":6,"N6":12,"N7":8},
{"g":"IGFBP5","P1":1,"P2":3,"P3":3,"P4":5,"P5":8,"P6":5,"P7":4,"N1":7,"N2":10,"N3":4,"N4":8,"N5":9,"N6":9,"N7":10},
{"g":"RAP2C","P1":5,"P2":6,"P3":4,"P4":3,"P5":3,"P6":3,"P7":3,"N1":5,"N2":8,"N3":10,"N4":10,"N5":10,"N6":9,"N7":9},
{"g":"DNAJB1","P1":4,"P2":3,"P3":7,"P4":3,"P5":4,"P6":4,"P7":4,"N1":7,"N2":12,"N3":3,"N4":9,"N5":6,"N6":10,"N7":9},
{"g":"HEPN1","P1":4,"P2":5,"P3":4,"P4":2,"P5":8,"P6":5,"P7":6,"N1":5,"N2":11,"N3":3,"N4":6,"N5":11,"N6":5,"N7":12},
{"g":"PIK3R1","P1":5,"P2":8,"P3":1,"P4":4,"P5":4,"P6":3,"P7":4,"N1":5,"N2":8,"N3":5,"N4":10,"N5":10,"N6":6,"N7":12},
{"g":"TMEM9B","P1":2,"P2":1,"P3":5,"P4":5,"P5":6,"P6":6,"P7":4,"N1":6,"N2":9,"N3":4,"N4":8,"N5":7,"N6":12,"N7":11},
{"g":"SGPL1","P1":1,"P2":3,"P3":4,"P4":4,"P5":5,"P6":4,"P7":5,"N1":7,"N2":10,"N3":8,"N4":6,"N5":8,"N6":8,"N7":12},
{"g":"STK32C","P1":0,"P2":3,"P3":4,"P4":5,"P5":9,"P6":8,"P7":6,"N1":5,"N2":7,"N3":11,"N4":5,"N5":11,"N6":9,"N7":6},
{"g":"C4orf32","P1":4,"P2":3,"P3":4,"P4":3,"P5":3,"P6":4,"P7":2,"N1":9,"N2":10,"N3":11,"N4":7,"N5":10,"N6":8,"N7":9},
{"g":"DNMBP","P1":3,"P2":2,"P3":8,"P4":3,"P5":5,"P6":4,"P7":4,"N1":6,"N2":6,"N3":8,"N4":7,"N5":6,"N6":11,"N7":12},
{"g":"LRFN3","P1":3,"P2":5,"P3":8,"P4":1,"P5":5,"P6":4,"P7":3,"N1":10,"N2":6,"N3":6,"N4":6,"N5":9,"N6":10,"N7":11},
{"g":"SYPL1","P1":1,"P2":2,"P3":5,"P4":2,"P5":6,"P6":5,"P7":7,"N1":8,"N2":7,"N3":8,"N4":7,"N5":6,"N6":11,"N7":10},
{"g":"GALNT2","P1":4,"P2":2,"P3":5,"P4":4,"P5":3,"P6":4,"P7":4,"N1":10,"N2":8,"N3":5,"N4":7,"N5":8,"N6":10,"N7":11},
{"g":"MFAP3L","P1":3,"P2":4,"P3":6,"P4":4,"P5":6,"P6":6,"P7":5,"N1":2,"N2":7,"N3":6,"N4":5,"N5":10.5,"N6":8,"N7":12},
{"g":"EMC10","P1":1,"P2":3,"P3":3,"P4":5,"P5":6,"P6":4,"P7":4,"N1":8,"N2":9,"N3":6,"N4":7,"N5":8,"N6":11,"N7":12},
{"g":"ZRANB1","P1":0,"P2":4,"P3":5,"P4":5,"P5":6,"P6":5,"P7":4,"N1":6,"N2":6,"N3":9,"N4":10,"N5":8,"N6":8,"N7":12},
{"g":"MINPP1","P1":1,"P2":4,"P3":6,"P4":2,"P5":4,"P6":5,"P7":5,"N1":7,"N2":7,"N3":6,"N4":11,"N5":8,"N6":8,"N7":12},
{"g":"LDHC","P1":1,"P2":4,"P3":6,"P4":2,"P5":5,"P6":5,"P7":5,"N1":7,"N2":6,"N3":8,"N4":8,"N5":8,"N6":11,"N7":11},
{"g":"GLUD1","P1":4,"P2":3,"P3":3,"P4":3,"P5":5,"P6":5,"P7":6,"N1":6,"N2":3,"N3":10,"N4":12,"N5":9,"N6":9,"N7":7},
{"g":"SIX1","P1":0,"P2":6,"P3":3,"P4":5,"P5":8,"P6":8,"P7":4,"N1":5,"N2":5,"N3":9,"N4":11,"N5":9,"N6":9,"N7":4},
{"g":"APOL2","P1":3,"P2":4,"P3":2,"P4":5,"P5":4,"P6":4,"P7":3,"N1":9,"N2":8,"N3":9,"N4":11,"N5":7,"N6":7,"N7":10},
{"g":"CADM4","P1":3,"P2":4,"P3":3,"P4":6,"P5":9,"P6":7,"P7":6,"N1":3,"N2":7,"N3":9,"N4":3,"N5":5,"N6":11,"N7":11},
{"g":"SATB2","P1":5,"P2":7,"P3":2,"P4":2,"P5":3,"P6":3,"P7":4,"N1":6,"N2":6,"N3":7,"N4":9,"N5":10,"N6":9,"N7":11},
{"g":"FAM92A1","P1":0,"P2":8,"P3":2,"P4":5,"P5":8,"P6":8,"P7":6,"N1":3,"N2":5,"N3":9,"N4":6,"N5":9,"N6":9,"N7":9},
{"g":"CST1","P1":4,"P2":4,"P3":5,"P4":4,"P5":9,"P6":5,"P7":4,"N1":6,"N2":11,"N3":4,"N4":5,"N5":5,"N6":12,"N7":8},
{"g":"TGFBI","P1":4,"P2":2,"P3":5,"P4":4,"P5":6,"P6":3,"P7":4,"N1":8,"N2":8,"N3":5,"N4":8,"N5":6,"N6":12,"N7":10},
{"g":"TBC1D1","P1":2,"P2":3,"P3":1,"P4":7,"P5":7,"P6":7,"P7":6,"N1":4,"N2":9,"N3":5,"N4":8,"N5":6,"N6":8,"N7":12},
{"g":"MEPCE","P1":3,"P2":3,"P3":8,"P4":3,"P5":5,"P6":4,"P7":3,"N1":9,"N2":6,"N3":6,"N4":6,"N5":7,"N6":11,"N7":12},
{"g":"PDZD8","P1":3,"P2":5,"P3":6,"P4":3,"P5":3,"P6":4,"P7":4,"N1":7,"N2":6,"N3":8,"N4":8,"N5":7,"N6":11,"N7":12},
{"g":"TMEM248","P1":3,"P2":4,"P3":1,"P4":6,"P5":6,"P6":5,"P7":4,"N1":6,"N2":9,"N3":5,"N4":7,"N5":7,"N6":10,"N7":12},
{"g":"RNF157","P1":1,"P2":5,"P3":4,"P4":3,"P5":5,"P6":5,"P7":5,"N1":9,"N2":5,"N3":8,"N4":9,"N5":7,"N6":8,"N7":12},
{"g":"TMEM182","P1":3,"P2":2,"P3":2,"P4":5,"P5":6,"P6":6,"P7":5,"N1":9,"N2":8,"N3":4,"N4":7,"N5":9,"N6":12,"N7":9},
{"g":"HS3ST1","P1":1,"P2":4,"P3":5,"P4":6,"P5":4,"P6":3,"P7":2,"N1":9,"N2":8,"N3":10,"N4":7,"N5":8,"N6":9,"N7":9},
{"g":"SMPD1","P1":6,"P2":3,"P3":4,"P4":2,"P5":5,"P6":5,"P7":4,"N1":8,"N2":6,"N3":6,"N4":6,"N5":7,"N6":10,"N7":12},
{"g":"ERLIN1","P1":3,"P2":5,"P3":7,"P4":1,"P5":4,"P6":4,"P7":4,"N1":5,"N2":6,"N3":8,"N4":8,"N5":9,"N6":9,"N7":12},
{"g":"POLR1E","P1":2,"P2":3,"P3":5,"P4":4,"P5":5,"P6":5,"P7":5,"N1":8,"N2":8,"N3":4,"N4":5,"N5":10,"N6":9,"N7":12},
{"g":"CDCP1","P1":1,"P2":3,"P3":5,"P4":8,"P5":5,"P6":5,"P7":3,"N1":5,"N2":9,"N3":5,"N4":9,"N5":6,"N6":12,"N7":8},
{"g":"WNT5A","P1":2,"P2":3,"P3":2,"P4":8,"P5":8,"P6":5,"P7":1,"N1":9,"N2":8,"N3":7,"N4":6,"N5":10,"N6":8,"N7":8},
{"g":"UBP1","P1":0,"P2":3,"P3":4,"P4":5,"P5":6,"P6":4,"P7":4,"N1":7,"N2":8,"N3":8,"N4":8,"N5":9,"N6":7,"N7":12}
]},"transform":[{"fold":["P1","P2","P3","P4","P5","P6","P7","N1","N2","N3","N4","N5","N6","N7"]}],"mark":{"type":"rect","stroke":"#a3a3a3","strokeWidth":1},"encoding":{"x":{"field":"key","type":"nominal","scale":{"domain":["P1","P2","P3","P4","P5","P6","P7","N1","N2","N3","N4","N5","N6","N7"],"range":[1038.4,1814],"paddingInner":0,"paddingOuter":0},"axis":{"orient":"bottom","offset":-713,"title":null,"labelExpr":"'T'+slice(datum.label,1)","labelAngle":-90,"labelFontSize":33,"labelOffset":-12,"labelPadding":7,"domain":false,"ticks":false}},"y":{"field":"g","type":"nominal","sort":null,"scale":{"range":[147,1768],"paddingInner":0,"paddingOuter":0},"axis":{"orient":"right","offset":-112,"title":null,"labelFontSize":19.5,"labelPadding":5,"domain":false,"ticks":false}},"color":{"field":"value","type":"quantitative","scale":{"domain":[0,2,4,6,8,10,12],"range":["#4575B4","#91BFDB","#E0F3F8","#FFFFBF","#FEE090","#FC8D59","#D73027"],"interpolate":"rgb"},"legend":null}}},
{"encoding":{"x":{"field":"x","type":"quantitative","scale":{"domain":[0,14],"range":[1038.4,1814],"nice":false,"zero":false},"axis":null},"y":{"field":"y","type":"quantitative","scale":{"domain":[0,75],"range":[147,1768],"nice":false,"zero":false},"axis":null}},
"layer":[
{"data":{"values":[{"x":1.5,"x2":2.5,"y":-1.85,"y2":-1.85},{"x":1.5,"x2":1.5,"y":0,"y2":-1.85},{"x":2.5,"x2":2.5,"y":0,"y2":-1.85},{"x":0.5,"x2":2,"y":-2.23,"y2":-2.23},{"x":0.5,"x2":0.5,"y":0,"y2":-2.23},{"x":2,"x2":2,"y":-1.85,"y2":-2.23},{"x":5.5,"x2":6.5,"y":-1.25,"y2":-1.25},{"x":5.5,"x2":5.5,"y":0,"y2":-1.25},{"x":6.5,"x2":6.5,"y":0,"y2":-1.25},{"x":4.5,"x2":6,"y":-1.99,"y2":-1.99},{"x":4.5,"x2":4.5,"y":0,"y2":-1.99},{"x":6,"x2":6,"y":-1.25,"y2":-1.99},{"x":3.5,"x2":5.25,"y":-2.25,"y2":-2.25},{"x":3.5,"x2":3.5,"y":0,"y2":-2.25},{"x":5.25,"x2":5.25,"y":-1.99,"y2":-2.25},{"x":1.25,"x2":4.375,"y":-3.56,"y2":-3.56},{"x":1.25,"x2":1.25,"y":-2.23,"y2":-3.56},{"x":4.375,"x2":4.375,"y":-2.25,"y2":-3.56},{"x":7.5,"x2":8.5,"y":-2.25,"y2":-2.25},{"x":7.5,"x2":7.5,"y":0,"y2":-2.25},{"x":8.5,"x2":8.5,"y":0,"y2":-2.25},{"x":10.5,"x2":11.5,"y":-2.08,"y2":-2.08},{"x":10.5,"x2":10.5,"y":0,"y2":-2.08},{"x":11.5,"x2":11.5,"y":0,"y2":-2.08},{"x":9.5,"x2":11,"y":-2.27,"y2":-2.27},{"x":9.5,"x2":9.5,"y":0,"y2":-2.27},{"x":11,"x2":11,"y":-2.08,"y2":-2.27},{"x":8,"x2":10.25,"y":-2.74,"y2":-2.74},{"x":8,"x2":8,"y":-2.25,"y2":-2.74},{"x":10.25,"x2":10.25,"y":-2.27,"y2":-2.74},{"x":12.5,"x2":13.5,"y":-2.76,"y2":-2.76},{"x":12.5,"x2":12.5,"y":0,"y2":-2.76},{"x":13.5,"x2":13.5,"y":0,"y2":-2.76},{"x":9.125,"x2":13,"y":-4.22,"y2":-4.22},{"x":9.125,"x2":9.125,"y":-2.74,"y2":-4.22},{"x":13,"x2":13,"y":-2.76,"y2":-4.22},{"x":2.81,"x2":11.06,"y":-6.71,"y2":-6.71},{"x":2.81,"x2":2.81,"y":-3.56,"y2":-6.71},{"x":11.06,"x2":11.06,"y":-4.22,"y2":-6.71}]},"mark":{"type":"rule","color":"#333","strokeWidth":1.3},"encoding":{"x2":{"field":"x2"},"y2":{"field":"y2"}}},
{"data":{"values":[{"x":-0.395,"x2":15.97,"y":51.98,"y2":53.03}]},"mark":{"type":"rect","fill":null,"stroke":"#f01010","strokeWidth":2.5,"strokeDash":[16,10]},"encoding":{"x2":{"field":"x2"},"y2":{"field":"y2"}}},
{"data":{"values":[{"x":0.155,"x2":6.996,"y":77.82,"y2":77.82},{"x":7.36,"x2":14.24,"y":77.82,"y2":77.6}]},"mark":{"type":"rule","color":"#555","strokeWidth":2},"encoding":{"x2":{"field":"x2"},"y2":{"field":"y2"}}},
{"data":{"values":[{"x":3.49,"y":78.85,"t":"HBV-positive"},{"x":10.14,"y":78.85,"t":"HBV-negative"}]},"mark":{"type":"text","align":"center","baseline":"middle","fontSize":35.5},"encoding":{"text":{"field":"t"}}},
{"data":{"values":[{"x":-0.89,"y":-5.51,"t":"C"}]},"mark":{"type":"text","align":"center","baseline":"middle","fontSize":62},"encoding":{"text":{"field":"t"}}}
]},
{"encoding":{"x":{"field":"x","type":"quantitative","scale":{"domain":[-0.663,1.678],"range":[933,1273.6],"nice":false,"zero":false},"axis":{"orient":"bottom","offset":-92,"values":[0,1],"title":null,"labels":false,"tickSize":12,"tickWidth":2,"domainWidth":3}},"y":{"field":"y","type":"quantitative","scale":{"domain":[0,5],"range":[2389,1952],"nice":false,"zero":false},"axis":{"orient":"left","offset":-933,"values":[0,1,2,3,4,5],"title":"MINPP1 exprssion","titleY":2180,"titleFontSize":29,"labelFontSize":31,"tickSize":5,"tickWidth":2,"domainWidth":2,"labelPadding":14,"titlePadding":2.5}}},
"layer":[
{"data":{"values":[{"x":0,"y":1.06},{"x":0.136,"y":0.81},{"x":0,"y":0.75},{"x":-0.068,"y":0.7},{"x":0.068,"y":0.63},{"x":0.271,"y":0.5},{"x":-0.068,"y":0.48},{"x":0,"y":0.48},{"x":0.136,"y":0.43},{"x":0.208,"y":0.43},{"x":-0.136,"y":0.35},{"x":0.068,"y":0.34},{"x":-0.267,"y":0.35},{"x":-0.199,"y":0.33},{"x":0,"y":0.22},{"x":-0.199,"y":0.11},{"x":-0.068,"y":0.12},{"x":0.136,"y":0.14},{"x":0.208,"y":0.11},{"x":0,"y":0.09},{"x":0.136,"y":0.1}]},"mark":{"type":"circle","color":"#bb2a2e","opacity":1,"size":260}},
{"data":{"values":[{"x":1,"y":4.7},{"x":1,"y":4.03},{"x":1,"y":3.71},{"x":0.864,"y":1.64},{"x":1,"y":1.61},{"x":1.134,"y":1.59},{"x":1.265,"y":1.61},{"x":0.864,"y":1.4},{"x":0.727,"y":1.3},{"x":1,"y":1.28},{"x":1.134,"y":1.25},{"x":0.864,"y":1.16},{"x":1,"y":1.02},{"x":1.134,"y":0.96},{"x":1,"y":0.76},{"x":1.265,"y":0.58},{"x":0.864,"y":0.54},{"x":1.134,"y":0.45},{"x":1,"y":0.42},{"x":0.864,"y":0.29},{"x":1,"y":0.27},{"x":1.134,"y":0.24},{"x":0.727,"y":0.14},{"x":1,"y":0.15},{"x":1.265,"y":0.1}]},"mark":{"type":"square","color":"#1a1a6c","opacity":1,"size":300}},
{"data":{"values":[{"x":0,"x2":0,"y":0.02,"y2":0.566},{"x":-0.155,"x2":0.17,"y":0.566,"y2":0.566},{"x":-0.082,"x2":0.33,"y":0.307,"y2":0.307},{"x":-0.155,"x2":0.17,"y":0.02,"y2":0.02}]},"mark":{"type":"rule","color":"#111","strokeWidth":2.5},"encoding":{"x2":{"field":"x2"},"y2":{"field":"y2"}}},
{"data":{"values":[{"x":1,"x2":1,"y":0.03,"y2":2.5},{"x":0.839,"x2":1.163,"y":2.5,"y2":2.5},{"x":0.79,"x2":1.323,"y":1.26,"y2":1.26},{"x":0.839,"x2":1.163,"y":0.03,"y2":0.03},{"x":0.84,"x2":0.84,"y":0.06,"y2":1.3}]},"mark":{"type":"rule","color":"#1a1a4c","strokeWidth":3},"encoding":{"x2":{"field":"x2"},"y2":{"field":"y2"}}},
{"data":{"values":[{"x":-0.044,"x2":-0.044,"y":1.34,"y2":5.2},{"x":-0.044,"x2":0.974,"y":5.2,"y2":5.2},{"x":0.974,"x2":0.974,"y":5.2,"y2":5}]},"mark":{"type":"rule","color":"#222","strokeWidth":1.5},"encoding":{"x2":{"field":"x2"},"y2":{"field":"y2"}}},
{"data":{"values":[{"x":0.49,"y":5.3,"t":"**"}]},"mark":{"type":"text","align":"center","baseline":"middle","fontSize":24},"encoding":{"text":{"field":"t"}}},
{"data":{"values":[{"x":-1.12,"y":5.4,"t":"E"}]},"mark":{"type":"text","align":"center","baseline":"middle","fontSize":62},"encoding":{"text":{"field":"t"}}},
{"data":{"values":[{"x":-0.32,"y":-0.52,"t":"HBV-positive"},{"x":0.755,"y":-0.57,"t":"HBV-negative"}]},"mark":{"type":"text","align":"center","baseline":"middle","fontSize":30.5,"angle":335},"encoding":{"text":{"field":"t"}}}
]},
{"encoding":{"x":{"field":"x","type":"quantitative","scale":{"domain":[-0.581,1.582],"range":[1411,1917.6],"nice":false,"zero":false},"axis":{"orient":"bottom","offset":-94,"values":[0,1],"title":null,"labels":false,"tickSize":14,"tickWidth":1.5,"domain":false}},"y":{"field":"y","type":"quantitative","scale":{"domain":[-0.619,2.623],"range":[2387,1972.6],"nice":false,"zero":false},"axis":{"orient":"left","offset":-1411,"values":[-0.5,0,0.5,1,1.5,2,2.5],"title":null,"labelExpr":"datum.value==0?'':replace(format(datum.value,'.1f'),'-','−')","labelAngle":-90,"labelAlign":"center","labelBaseline":"bottom","labelFontSize":28,"labelPadding":5,"tickSize":14,"tickWidth":1.5,"domain":false}}},
"layer":[
{"data":{"values":[{"x":0.003,"y":0.967},{"x":0.003,"y":0.907},{"x":-0.048,"y":0.871},{"x":0.036,"y":0.862},{"x":0.012,"y":0.772},{"x":-0.003,"y":0.683},{"x":-0.078,"y":0.563},{"x":0.057,"y":0.548},{"x":-0.033,"y":0.527},{"x":-0.139,"y":0.503},{"x":0.012,"y":0.503},{"x":-0.139,"y":0.443},{"x":-0.093,"y":0.419},{"x":0.142,"y":0.458},{"x":0.102,"y":0.428},{"x":0.042,"y":0.407},{"x":-0.048,"y":0.398},{"x":-0.003,"y":0.398},{"x":-0.099,"y":0.317},{"x":-0.048,"y":0.287},{"x":0.042,"y":0.278},{"x":0.127,"y":0.249},{"x":-0.093,"y":0.234},{"x":-0.003,"y":0.234},{"x":-0.154,"y":0.198},{"x":-0.078,"y":0.189},{"x":-0.033,"y":0.18},{"x":0.042,"y":0.174},{"x":0.087,"y":0.174},{"x":-0.003,"y":0.15},{"x":-0.093,"y":0.159},{"x":-0.139,"y":0.069},{"x":-0.093,"y":0.069},{"x":-0.033,"y":0.039},{"x":0.012,"y":0.039},{"x":0.057,"y":0.054},{"x":0.102,"y":0.063},{"x":-0.003,"y":-0.066},{"x":0.057,"y":-0.066},{"x":-0.003,"y":-0.006},{"x":-0.265,"y":-0.102},{"x":-0.214,"y":-0.126},{"x":-0.169,"y":-0.15},{"x":-0.114,"y":-0.156},{"x":-0.063,"y":-0.162},{"x":-0.003,"y":-0.18},{"x":0.042,"y":-0.15},{"x":0.093,"y":-0.15},{"x":0.148,"y":-0.141},{"x":0.199,"y":-0.126},{"x":0.244,"y":-0.102}]},"mark":{"type":"square","color":"#f0404c","opacity":0.9,"size":144}},
{"data":{"values":[{"x":0.997,"y":2.06},{"x":1.051,"y":1.79},{"x":0.967,"y":1.75},{"x":1.015,"y":1.72},{"x":0.997,"y":1.63},{"x":0.901,"y":1.34},{"x":0.946,"y":1.34},{"x":1.045,"y":1.33},{"x":0.997,"y":1.31},{"x":1.127,"y":1.25},{"x":0.895,"y":1.24},{"x":0.946,"y":1.22},{"x":1.081,"y":1.22},{"x":1.027,"y":1.21},{"x":0.982,"y":1.16},{"x":1.211,"y":1.17},{"x":0.816,"y":1.13},{"x":0.864,"y":1.11},{"x":0.916,"y":1.1},{"x":1.166,"y":1.12},{"x":1.111,"y":1.11},{"x":1.066,"y":1.1},{"x":1.015,"y":1.09},{"x":0.967,"y":1.06},{"x":1.045,"y":0.98},{"x":0.997,"y":0.97},{"x":1.223,"y":0.94},{"x":1.172,"y":0.92},{"x":0.795,"y":0.93},{"x":0.846,"y":0.92},{"x":0.901,"y":0.91},{"x":0.946,"y":0.89},{"x":0.997,"y":0.88},{"x":1.051,"y":0.89},{"x":1.102,"y":0.89},{"x":1.142,"y":0.85},{"x":1.087,"y":0.84},{"x":1.036,"y":0.83},{"x":0.985,"y":0.83},{"x":0.895,"y":0.81},{"x":1.322,"y":0.76},{"x":0.705,"y":0.75},{"x":0.756,"y":0.72},{"x":0.804,"y":0.74},{"x":0.855,"y":0.72},{"x":0.907,"y":0.72},{"x":0.952,"y":0.7},{"x":0.997,"y":0.71},{"x":1.045,"y":0.73},{"x":1.096,"y":0.74},{"x":1.223,"y":0.73},{"x":1.268,"y":0.72},{"x":1.148,"y":0.71},{"x":1.202,"y":0.71},{"x":0.605,"y":0.63},{"x":0.654,"y":0.63},{"x":0.75,"y":0.64},{"x":0.795,"y":0.62},{"x":0.846,"y":0.62},{"x":0.895,"y":0.62},{"x":0.946,"y":0.61},{"x":0.997,"y":0.64},{"x":1.045,"y":0.64},{"x":1.096,"y":0.62},{"x":1.142,"y":0.65},{"x":1.196,"y":0.63},{"x":1.247,"y":0.62},{"x":1.292,"y":0.62},{"x":1.343,"y":0.62},{"x":1.392,"y":0.63},{"x":0.696,"y":0.55},{"x":0.75,"y":0.53},{"x":0.804,"y":0.52},{"x":0.855,"y":0.52},{"x":0.907,"y":0.52},{"x":0.955,"y":0.52},{"x":1.006,"y":0.53},{"x":1.057,"y":0.53},{"x":1.105,"y":0.52},{"x":1.157,"y":0.53},{"x":0.605,"y":0.45},{"x":0.654,"y":0.41},{"x":0.705,"y":0.4},{"x":0.756,"y":0.42},{"x":0.81,"y":0.43},{"x":0.864,"y":0.4},{"x":0.916,"y":0.4},{"x":0.967,"y":0.38},{"x":1.015,"y":0.38},{"x":1.066,"y":0.4},{"x":1.117,"y":0.4},{"x":1.172,"y":0.42},{"x":1.223,"y":0.41},{"x":1.268,"y":0.39},{"x":1.346,"y":0.41},{"x":1.392,"y":0.45},{"x":0.563,"y":0.31},{"x":0.614,"y":0.26},{"x":0.66,"y":0.32},{"x":0.714,"y":0.31},{"x":0.765,"y":0.31},{"x":0.816,"y":0.3},{"x":0.87,"y":0.28},{"x":0.922,"y":0.28},{"x":0.976,"y":0.28},{"x":1.027,"y":0.28},{"x":1.075,"y":0.29},{"x":1.127,"y":0.29},{"x":1.178,"y":0.31},{"x":1.232,"y":0.29},{"x":1.328,"y":0.32},{"x":1.383,"y":0.26},{"x":1.431,"y":0.29},{"x":0.66,"y":0.23},{"x":0.714,"y":0.23},{"x":0.765,"y":0.23},{"x":0.816,"y":0.2},{"x":0.87,"y":0.2},{"x":0.922,"y":0.19},{"x":0.976,"y":0.17},{"x":1.027,"y":0.19},{"x":1.075,"y":0.2},{"x":1.127,"y":0.2},{"x":1.178,"y":0.23},{"x":1.232,"y":0.23},{"x":1.283,"y":0.23},{"x":1.328,"y":0.25},{"x":0.584,"y":0.11},{"x":0.636,"y":0.11},{"x":0.684,"y":0.11},{"x":0.735,"y":0.11},{"x":0.786,"y":0.1},{"x":0.84,"y":0.1},{"x":0.892,"y":0.1},{"x":0.943,"y":0.1},{"x":0.997,"y":0.09},{"x":1.051,"y":0.09},{"x":1.102,"y":0.1},{"x":1.157,"y":0.1},{"x":1.208,"y":0.1},{"x":1.262,"y":0.11},{"x":1.31,"y":0.11},{"x":1.364,"y":0.11},{"x":1.413,"y":0.11}]},"mark":{"type":"square","color":"#6c7ab8","opacity":0.9,"size":144}},
{"data":{"values":[{"x":-0.407,"x2":0.392,"y":-0.066,"y2":0.488},{"x":0.6,"x2":1.398,"y":0.245,"y2":0.773}]},"mark":{"type":"rect","fill":null,"stroke":"#222","strokeWidth":1.5},"encoding":{"x2":{"field":"x2"},"y2":{"field":"y2"}}},
{"data":{"values":[{"x":-0.407,"x2":0.392,"y":0.207,"y2":0.207},{"x":0.6,"x2":1.398,"y":0.5,"y2":0.5}]},"mark":{"type":"rule","color":"#111","strokeWidth":4},"encoding":{"x2":{"field":"x2"},"y2":{"field":"y2"}}},
{"data":{"values":[{"x":-0.205,"x2":0.193,"y":0.958,"y2":0.958},{"x":-0.205,"x2":0.193,"y":-0.18,"y2":-0.18},{"x":0.8,"x2":1.196,"y":1.338,"y2":1.338},{"x":0.8,"x2":1.196,"y":0.087,"y2":0.087},{"x":0.006,"x2":1.009,"y":2.28,"y2":2.28}]},"mark":{"type":"rule","color":"#333","strokeWidth":1.5},"encoding":{"x2":{"field":"x2"},"y2":{"field":"y2"}}},
{"data":{"values":[{"x":0,"x2":0,"y":0.958,"y2":0.488},{"x":0,"x2":0,"y":-0.066,"y2":-0.18},{"x":1,"x2":1,"y":1.338,"y2":0.773},{"x":1,"x2":1,"y":0.245,"y2":0.087}]},"mark":{"type":"rule","color":"#333","strokeWidth":1.2,"strokeDash":[4,3]},"encoding":{"x2":{"field":"x2"},"y2":{"field":"y2"}}},
{"data":{"values":[{"x":-0.581,"x2":1.582,"y":-0.619,"y2":2.623}]},"mark":{"type":"rect","fill":null,"stroke":"#444","strokeWidth":2},"encoding":{"x2":{"field":"x2"},"y2":{"field":"y2"}}},
{"data":{"values":[{"x":0.02,"y":-0.877,"t":"HBV-positive"},{"x":1.136,"y":-0.877,"t":"HBV-negative"}]},"mark":{"type":"text","align":"center","baseline":"middle","fontSize":31.5},"encoding":{"text":{"field":"t"}}},
{"data":{"values":[{"x":0.49,"y":2.84,"t":"TCGA dataset"}]},"mark":{"type":"text","align":"center","baseline":"middle","fontSize":30},"encoding":{"text":{"field":"t"}}},
{"data":{"values":[{"x":-0.922,"y":1.337,"t":"MINPP1 exprssion"}]},"mark":{"type":"text","align":"center","baseline":"middle","fontSize":29,"angle":270},"encoding":{"text":{"field":"t"}}},
{"data":{"values":[{"x":0.434,"y":2.38,"t":"*"}]},"mark":{"type":"text","align":"center","baseline":"middle","fontSize":24},"encoding":{"text":{"field":"t"}}},
{"data":{"values":[{"x":-0.9,"y":2.68,"t":"F"}]},"mark":{"type":"text","align":"center","baseline":"middle","fontSize":62},"encoding":{"text":{"field":"t"}}}
]}
]}
